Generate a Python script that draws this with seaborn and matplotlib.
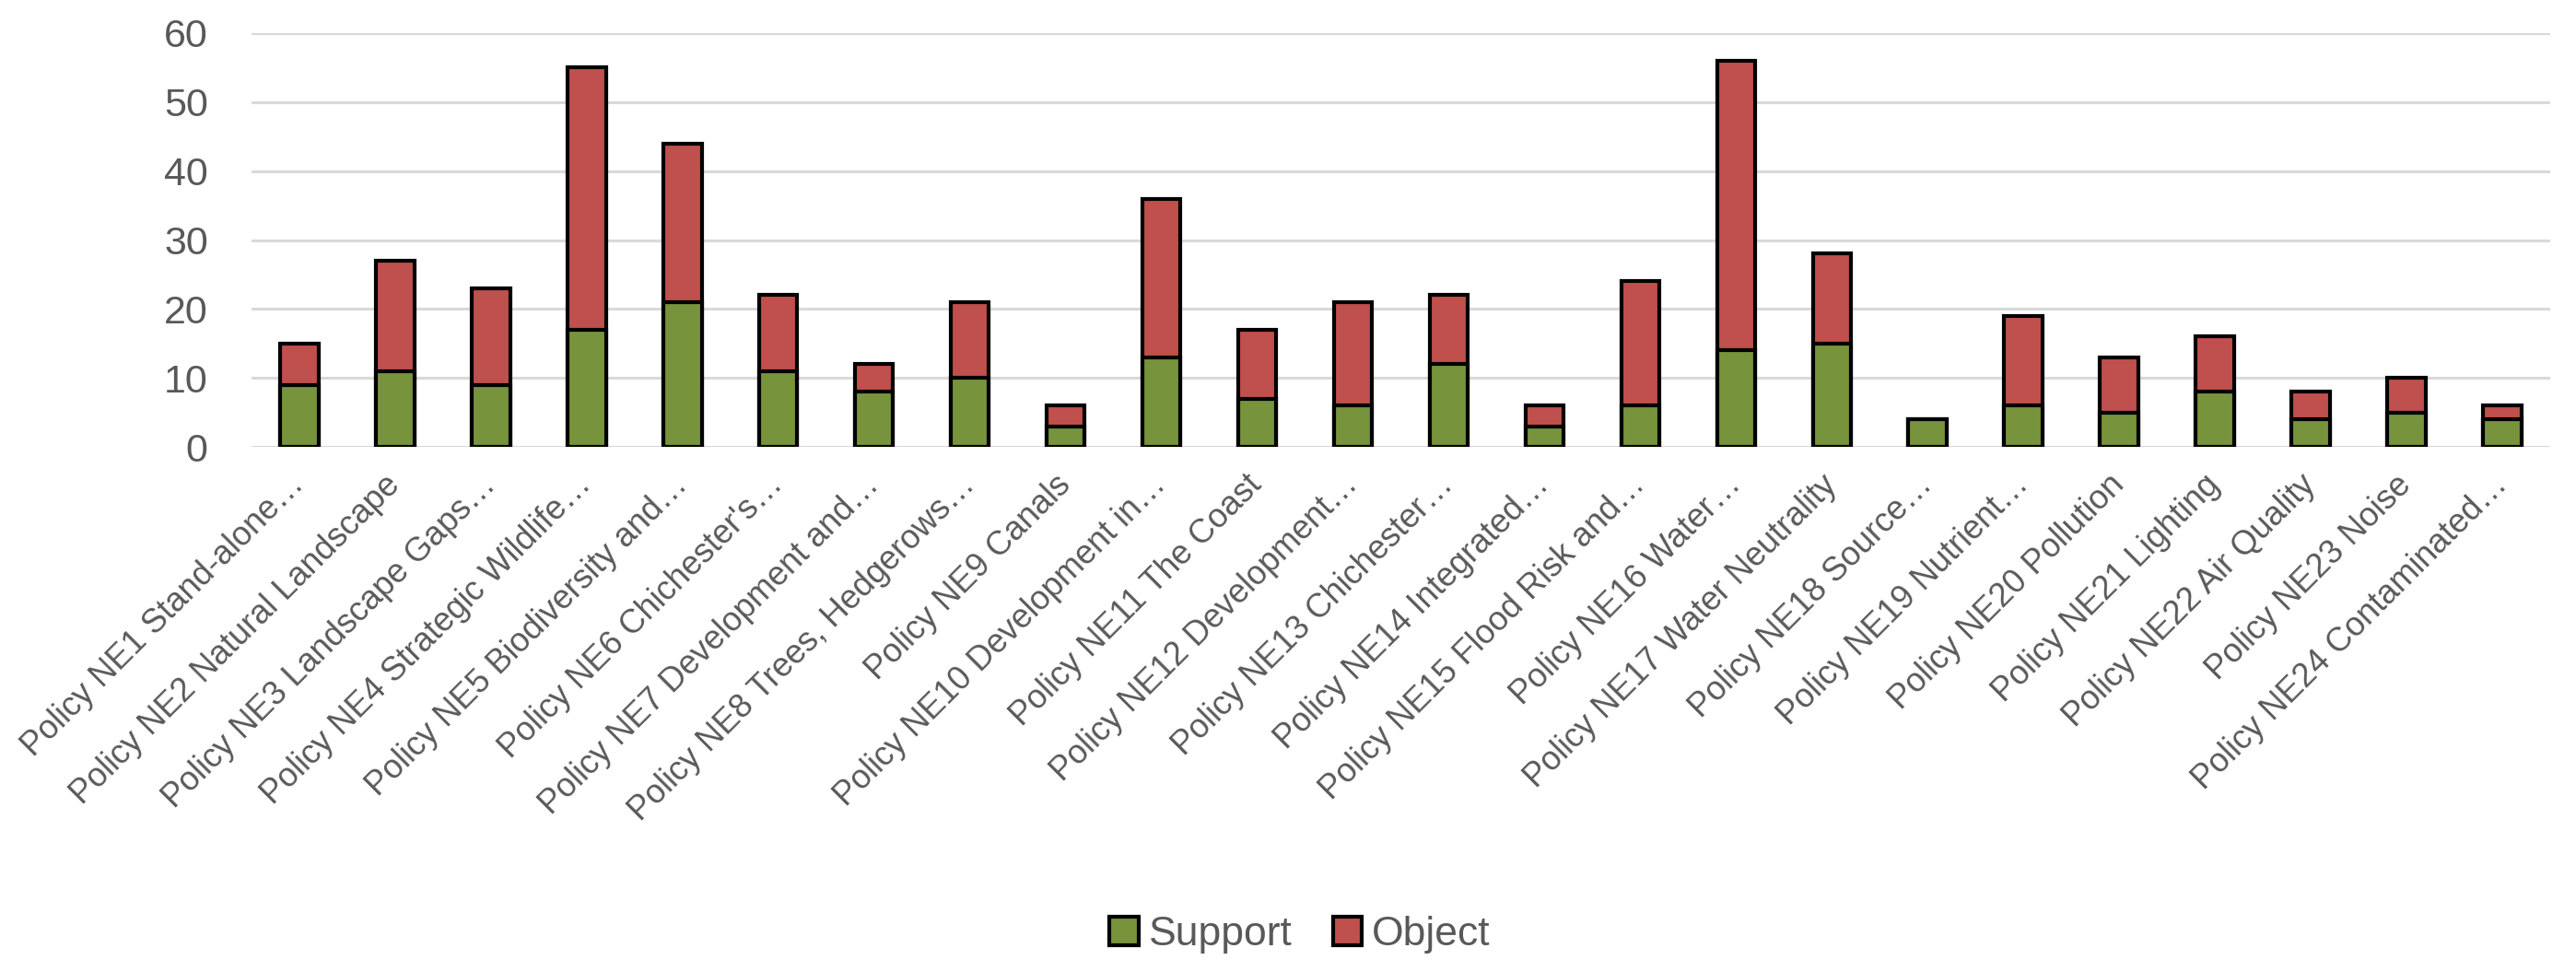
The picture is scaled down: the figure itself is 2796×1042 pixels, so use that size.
import matplotlib
matplotlib.use("Agg")
import matplotlib.pyplot as plt
import seaborn as sns
import pandas as pd
from matplotlib.patches import Patch

# Policy responses (Support / Object counts)
policies = [
    "Policy NE1 Stand-alone…",
    "Policy NE2 Natural Landscape",
    "Policy NE3 Landscape Gaps…",
    "Policy NE4 Strategic Wildlife…",
    "Policy NE5 Biodiversity and…",
    "Policy NE6 Chichester's…",
    "Policy NE7 Development and…",
    "Policy NE8 Trees, Hedgerows…",
    "Policy NE9 Canals",
    "Policy NE10 Development in…",
    "Policy NE11 The Coast",
    "Policy NE12 Development…",
    "Policy NE13 Chichester…",
    "Policy NE14 Integrated…",
    "Policy NE15 Flood Risk and…",
    "Policy NE16 Water…",
    "Policy NE17 Water Neutrality",
    "Policy NE18 Source…",
    "Policy NE19 Nutrient…",
    "Policy NE20 Pollution",
    "Policy NE21 Lighting",
    "Policy NE22 Air Quality",
    "Policy NE23 Noise",
    "Policy NE24 Contaminated…",
]
support = [9, 11, 9, 17, 21, 11, 8, 10, 3, 13, 7, 6, 12, 3, 6, 14, 15, 4, 6, 5, 8, 4, 5, 4]
objects = [6, 16, 14, 38, 23, 11, 4, 11, 3, 23, 10, 15, 10, 3, 18, 42, 13, 0, 13, 8, 8, 4, 5, 2]

df = pd.DataFrame({"Policy": policies, "Support": support, "Object": objects})
df["Total"] = df["Support"] + df["Object"]

green = "#77933C"
red = "#C0504D"
grey_text = "#595959"

sns.set_theme(style="white")
plt.rcParams["font.family"] = ["Liberation Sans", "DejaVu Sans"]

fig = plt.figure(figsize=(27.96, 10.42), dpi=100)
ax = fig.add_axes([0.0976, 0.5345, 0.8924, 0.431])

# stacked: draw total in red, then support in green over it
sns.barplot(data=df, x="Policy", y="Total", color=red, width=0.4,
            edgecolor="black", linewidth=3, saturation=1, ax=ax, zorder=3)
sns.barplot(data=df, x="Policy", y="Support", color=green, width=0.4,
            edgecolor="black", linewidth=3, saturation=1, ax=ax, zorder=4)

ax.set_ylim(0, 60)
ax.set_yticks(range(0, 61, 10))
ax.set_xlim(-0.5, len(policies) - 0.5)
ax.yaxis.grid(True, color="#D9D9D9", linewidth=2.2, zorder=0)
ax.set_axisbelow(True)
for s in ax.spines.values():
    s.set_visible(False)
ax.set_xlabel("")
ax.set_ylabel("")
ax.tick_params(axis="y", length=0, pad=34, labelsize=31, labelcolor=grey_text)
ax.tick_params(axis="x", length=0, pad=26, labelsize=26, labelcolor=grey_text)
for lbl in ax.get_xticklabels():
    lbl.set_rotation(45)
    lbl.set_rotation_mode("anchor")
    lbl.set_ha("right")
    lbl.set_va("center")

handles = [Patch(facecolor=green, edgecolor="black", linewidth=3, label="Support"),
           Patch(facecolor=red, edgecolor="black", linewidth=3, label="Object")]
fig.legend(handles=handles, loc="center", bbox_to_anchor=(0.5047, 0.026), ncol=2,
           frameon=False, fontsize=32, labelcolor=grey_text, handlelength=0.7,
           handleheight=0.7, handletextpad=0.25, columnspacing=1.0)

fig.savefig("out.png", dpi=100)
